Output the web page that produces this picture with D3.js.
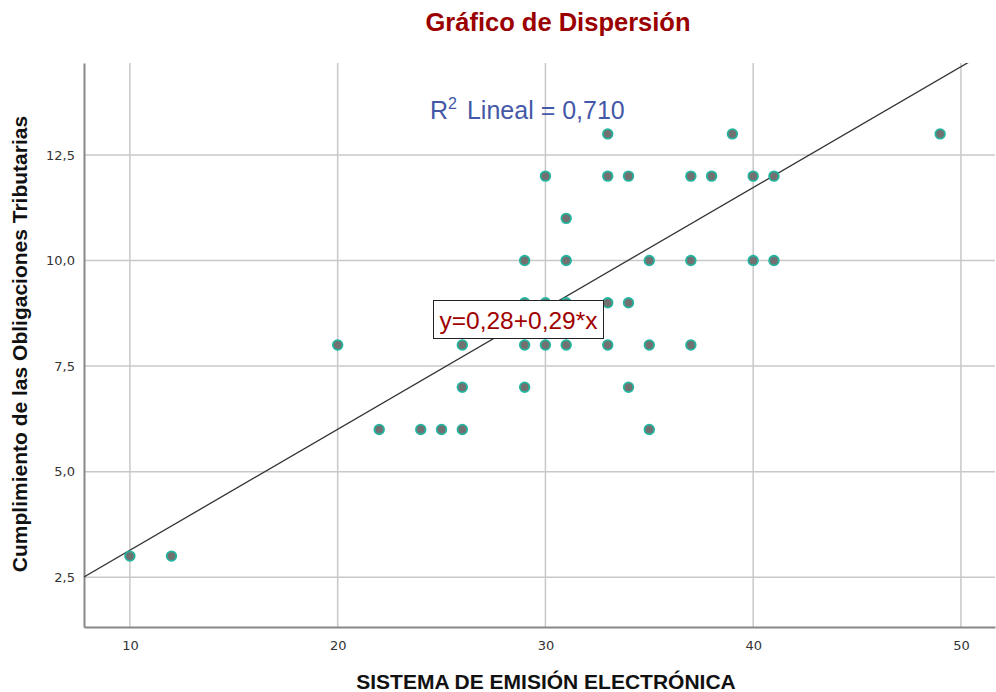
<!DOCTYPE html>
<html>
<head>
<meta charset="utf-8">
<script src="https://cdn.jsdelivr.net/npm/d3@7"></script>
<style>
  body { margin: 0; background: #fff; }
  text { font-family: "Liberation Sans", Arial, sans-serif; }
</style>
</head>
<body>
<svg id="chart" width="996" height="692"></svg>
<script>
// datos: sistema de emisión (x) vs cumplimiento (y)
const xValues = [10, 12, 20, 22, 24, 25, 26, 26, 26, 29, 29, 29, 29, 30, 30, 30,
	31, 31, 31, 31, 33, 33, 33, 33, 34, 34, 34, 35, 35, 35, 37, 37, 37, 38, 39,
	40, 40, 41, 41, 49];
const yValues = [3, 3, 8, 6, 6, 6, 6, 7, 8, 7, 8, 9, 10, 8, 9, 12,
	8, 9, 10, 11, 8, 9, 12, 13, 7, 9, 12, 6, 8, 10, 8, 10, 12, 12, 13,
	10, 12, 10, 12, 13];
const xTicks = [10, 20, 30, 40, 50];
const yTicks = [2.5, 5.0, 7.5, 10.0, 12.5];
const fitLine = [0.277, 0.2863]; // intercepto, pendiente
const r2Label = "0,710";
const eqLabel = "y=0,28+0,29*x";

const svg = d3.select("#chart");
const margin = { top: 63, right: 1, bottom: 65, left: 84 };
const width = 996 - margin.left - margin.right;
const height = 692 - margin.top - margin.bottom;

const x = d3.scaleLinear().domain([7.79, 51.64]).range([0, width]);
const y = d3.scaleLinear().domain([1.32, 14.68]).range([height, 0]);

const g = svg.append("g")
	.attr("transform", `translate(${margin.left},${margin.top})`);

// rejilla
g.append("g")
	.selectAll("line")
	.data(xTicks)
	.join("line")
	.attr("x1", d => x(d)).attr("x2", d => x(d))
	.attr("y1", 0).attr("y2", height)
	.attr("stroke", "#c8c8c8").attr("stroke-width", 1.5);

g.append("g")
	.selectAll("line")
	.data(yTicks)
	.join("line")
	.attr("x1", 0).attr("x2", width)
	.attr("y1", d => y(d)).attr("y2", d => y(d))
	.attr("stroke", "#c8c8c8").attr("stroke-width", 1.5);

// ejes
const fmt = d => d3.format(".1f")(d).replace(".", ",");

const xAxis = g.append("g")
	.attr("transform", `translate(0,${height})`)
	.call(d3.axisBottom(x).tickValues(xTicks).tickSize(0).tickPadding(14));
xAxis.select(".domain").attr("stroke", "#888").attr("stroke-width", 2);
xAxis.selectAll("text").style("font-size", "13px").attr("fill", "#333")
	.style("font-family", "'DejaVu Sans', sans-serif");

const yAxis = g.append("g")
	.call(d3.axisLeft(y).tickValues(yTicks).tickFormat(fmt).tickSize(0).tickPadding(9));
yAxis.select(".domain").attr("stroke", "#888").attr("stroke-width", 2);
yAxis.selectAll("text").style("font-size", "13px").attr("fill", "#333")
	.style("font-family", "'DejaVu Sans', sans-serif");

// línea de ajuste
const clip = svg.append("defs").append("clipPath").attr("id", "plotClip");
clip.append("rect").attr("width", width).attr("height", height);

const fitY = v => fitLine[0] + fitLine[1] * v;
g.append("line")
	.attr("clip-path", "url(#plotClip)")
	.attr("x1", x(7.79)).attr("y1", y(fitY(7.79)))
	.attr("x2", x(50.4)).attr("y2", y(fitY(50.4)))
	.attr("stroke", "#333").attr("stroke-width", 1.3);

// puntos
const points = xValues.map((v, i) => ({ x: v, y: yValues[i] }));
g.selectAll(".dot")
	.data(points)
	.join("circle")
	.attr("class", "dot")
	.attr("cx", d => x(d.x))
	.attr("cy", d => y(d.y))
	.attr("r", 4.8)
	.attr("fill", "#717171")
	.attr("stroke", "#22b5a0")
	.attr("stroke-width", 1.8);

// R2
const r2 = svg.append("text")
	.attr("x", 430).attr("y", 119)
	.attr("fill", "#4458a8")
	.style("font-size", "25px");
r2.append("tspan").text("R");
r2.append("tspan").attr("dy", -10).style("font-size", "16px").text("2");
r2.append("tspan").attr("dy", 10).attr("dx", 10).text("Lineal = " + r2Label);

// caja de ecuación
svg.append("rect")
	.attr("x", 433.5).attr("y", 300.5)
	.attr("width", 170).attr("height", 38)
	.attr("fill", "#fff").attr("stroke", "#222").attr("stroke-width", 1);
svg.append("text")
	.attr("x", 518.5).attr("y", 329)
	.attr("text-anchor", "middle")
	.attr("fill", "#a00000")
	.style("font-size", "24.5px")
	.text(eqLabel);

// títulos
svg.append("text")
	.attr("x", 558).attr("y", 31)
	.attr("text-anchor", "middle")
	.attr("fill", "#9b0000")
	.style("font-size", "25.5px")
	.style("font-weight", "bold")
	.text("Gráfico de Dispersión");

svg.append("text")
	.attr("x", 546).attr("y", 689)
	.attr("text-anchor", "middle")
	.attr("fill", "#111")
	.style("font-size", "21px")
	.style("font-weight", "bold")
	.text("SISTEMA DE EMISIÓN ELECTRÓNICA");

svg.append("text")
	.attr("transform", "translate(27,344) rotate(-90)")
	.attr("text-anchor", "middle")
	.attr("fill", "#111")
	.style("font-size", "21px")
	.style("font-weight", "bold")
	.text("Cumplimiento de las Obligaciones Tributarias");
</script>
</body>
</html>
